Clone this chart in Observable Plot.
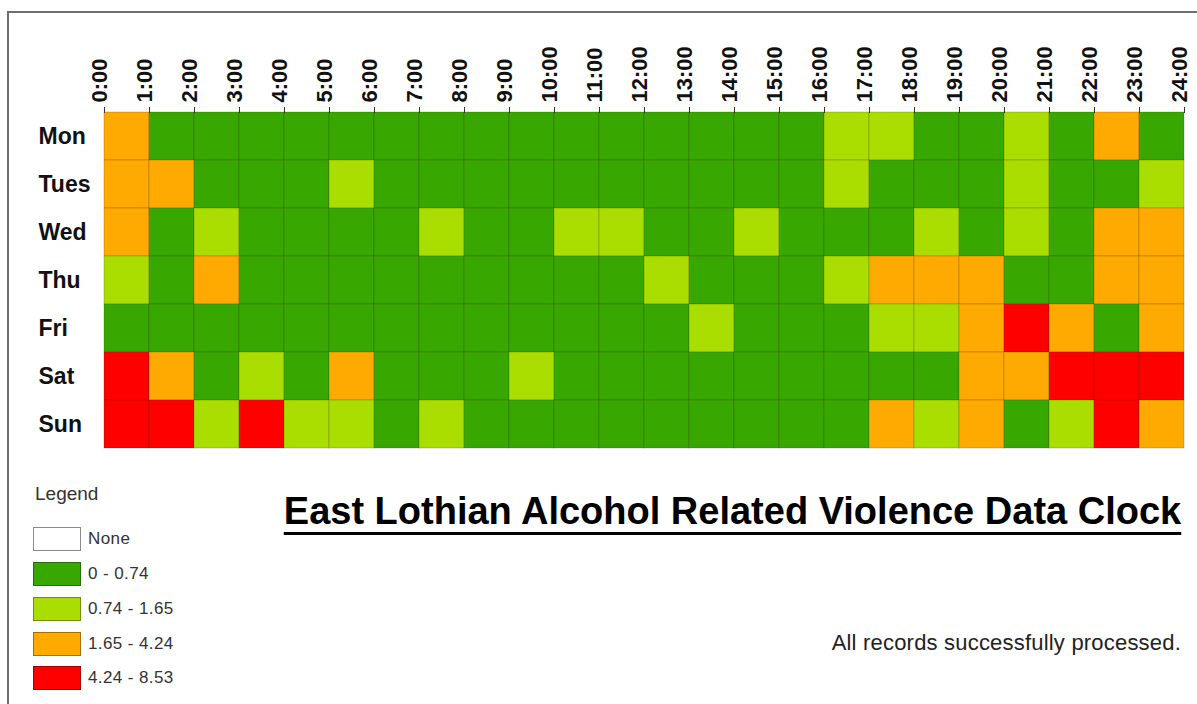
<!DOCTYPE html>
<html>
<head>
<meta charset="utf-8">
<script src="https://cdn.jsdelivr.net/npm/d3@7"></script>
<script src="https://cdn.jsdelivr.net/npm/@observablehq/plot@0.6"></script>
<style>
  html, body { margin: 0; padding: 0; background: #fff; }
  #wrap { position: relative; width: 1197px; height: 704px; overflow: hidden; font-family: "Liberation Sans", Arial, sans-serif; }
  #frame { position: absolute; left: 7px; top: 11px; width: 1300px; height: 800px; border-top: 2px solid #6e6e6e; border-left: 2px solid #6e6e6e; }
  #chart { position: absolute; left: 0; top: 0; }
  .leg-title { position: absolute; left: 35px; top: 483px; font-size: 19px; color: #333; }
  .leg-row { position: absolute; left: 33px; height: 24px; display: flex; align-items: center; }
  .sw { width: 46px; height: 22px; box-sizing: content-box; }
  .leg-label { margin-left: 7px; font-size: 17px; color: #333; white-space: nowrap; letter-spacing: 0.4px; }
  #title { position: absolute; left: 0; width: 1197px; top: 490px; text-align: center; padding-left: 268px; box-sizing: border-box;
           font-size: 38px; font-weight: bold; color: #000; text-decoration: underline; text-decoration-thickness: 3px; text-underline-offset: 8px; white-space: nowrap; }
  #caption { position: absolute; right: 16px; top: 630px; font-size: 22px; color: #222; white-space: nowrap; letter-spacing: 0.2px; }
</style>
</head>
<body>
<div id="wrap">
  <div id="frame"></div>
  <div id="chart"></div>
  <div class="leg-title">Legend</div>
  <div id="legend"></div>
  <div id="title">East Lothian Alcohol Related Violence Data Clock</div>
  <div id="caption">All records successfully processed.</div>
</div>
<script>
// ---- data ----
const days = ["Mon", "Tues", "Wed", "Thu", "Fri", "Sat", "Sun"];
const tickLabels = ["0:00","1:00","2:00","3:00","4:00","5:00","6:00","7:00","8:00","9:00","10:00","11:00","12:00",
  "13:00","14:00","15:00","16:00","17:00","18:00","19:00","20:00","21:00","22:00","23:00","24:00"];
const classes = ["0 - 0.74", "0.74 - 1.65", "1.65 - 4.24", "4.24 - 8.53"];
const classColors = ["#38a800", "#aade00", "#ffaa00", "#ff0000"];
// class index per hour (0:00-1:00 ... 23:00-24:00)
const mon  = [2,0,0,0,0,0,0,0,0,0,0,0,0,0,0,0,1,1,0,0,1,0,2,0];
const tues = [2,2,0,0,0,1,0,0,0,0,0,0,0,0,0,0,1,0,0,0,1,0,0,1];
const wed  = [2,0,1,0,0,0,0,1,0,0,1,1,0,0,1,0,0,0,1,0,1,0,2,2];
const thu  = [1,0,2,0,0,0,0,0,0,0,0,0,1,0,0,0,1,2,2,2,0,0,2,2];
const fri  = [0,0,0,0,0,0,0,0,0,0,0,0,0,1,0,0,0,1,1,2,3,2,0,2];
const sat  = [3,2,0,1,0,2,0,0,0,1,0,0,0,0,0,0,0,0,0,2,2,3,3,3];
const sun  = [3,3,1,3,1,1,0,1,0,0,0,0,0,0,0,0,0,2,1,2,0,1,3,2];
const rows = [mon, tues, wed, thu, fri, sat, sun];

const cells = days.flatMap((day, r) => rows[r].map((c, h) => ({day, hour: h, cls: classes[c]})));
const ticks = tickLabels.map((t, i) => ({pos: i, label: t}));

const chart = Plot.plot({
  width: 1197,
  height: 460,
  marginLeft: 104,
  marginRight: 13,
  marginTop: 112,
  marginBottom: 12,
  style: {fontFamily: "'Liberation Sans', Arial, sans-serif", background: "transparent"},
  x: {domain: [0, 24], axis: null},
  y: {domain: days, padding: 0, axis: null},
  color: {domain: classes, range: classColors},
  marks: [
    Plot.rect(cells, {x1: "hour", x2: d => d.hour + 1, y: "day", fill: "cls", stroke: "#3a2a00", strokeOpacity: 0.22, strokeWidth: 1}),
    Plot.axisX({anchor: "top", ticks: ticks.map(d => d.pos), tickSize: 6, tickFormat: () => "", stroke: "#333"}),
    Plot.text(ticks, {x: "pos", text: "label", frameAnchor: "top", rotate: -90, textAnchor: "start", lineAnchor: "bottom",
      dy: -10, dx: 2, fontSize: 22, fontWeight: "bold", fill: "#111", style: "letter-spacing:1.6px"}),
    Plot.text(days, {y: d => d, text: d => d, frameAnchor: "left", textAnchor: "start", dx: -66,
      fontSize: 23, fontWeight: "bold", fill: "#111"})
  ]
});
document.getElementById("chart").appendChild(chart);

// legend
const legendItems = [{label: "None", color: "#ffffff", border: "#8a8a8a"}]
  .concat(classes.map((c, i) => ({label: c, color: classColors[i], border: d3.color(classColors[i]).darker(1.2).formatHex()})));
const legendTops = [527, 562, 597, 632, 666];
const legend = document.getElementById("legend");
legendItems.forEach((it, i) => {
  const row = document.createElement("div");
  row.className = "leg-row";
  row.style.top = legendTops[i] + "px";
  const sw = document.createElement("div");
  sw.className = "sw";
  sw.style.background = it.color;
  sw.style.border = "1.5px solid " + it.border;
  const lb = document.createElement("span");
  lb.className = "leg-label";
  lb.textContent = it.label;
  row.appendChild(sw);
  row.appendChild(lb);
  legend.appendChild(row);
});
</script>
</body>
</html>
